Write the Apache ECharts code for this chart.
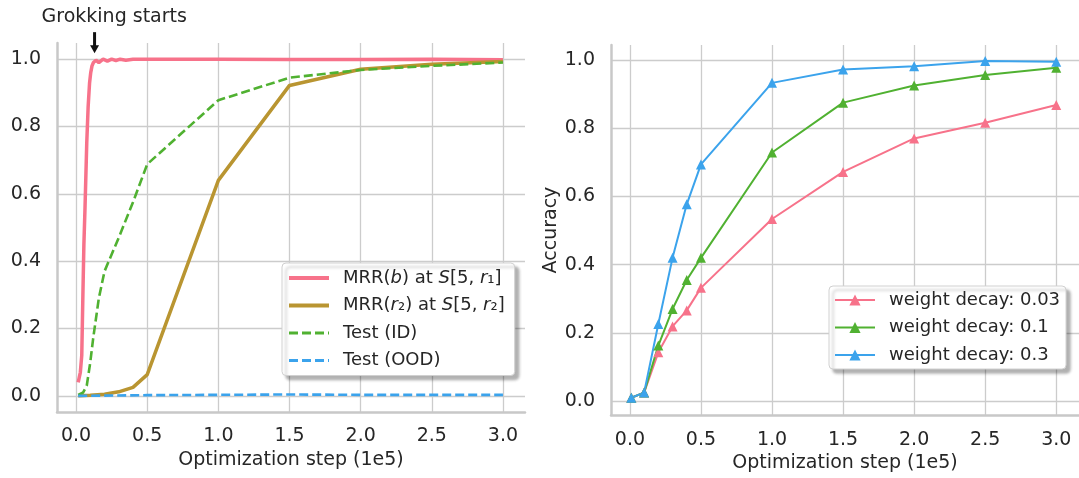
<!DOCTYPE html>
<html>
<head>
<meta charset="utf-8">
<script src="https://cdn.jsdelivr.net/npm/echarts@6.0.0/dist/echarts.min.js"></script>
<style>
  html, body { margin: 0; padding: 0; background: #fff; }
  #container { width: 1079px; height: 478px; }
</style>
</head>
<body>
<div id="container"></div>
<script>
// ---- data (x in units of 1e5 optimization steps) ----
var tickValuesX = [0, 0.5, 1.0, 1.5, 2.0, 2.5, 3.0];
var tickValuesY = [0, 0.2, 0.4, 0.6, 0.8, 1.0];

// left panel
var mrrBX = [0.015, 0.03, 0.04, 0.048, 0.055, 0.063, 0.075, 0.085, 0.095, 0.103, 0.112, 0.122,
    0.14, 0.16, 0.19, 0.22, 0.25, 0.28, 0.31, 0.35, 0.4, 0.5, 0.75, 1.0, 1.5, 2.0, 2.5, 3.0];
var mrrBY = [0.04, 0.07, 0.12, 0.3, 0.45, 0.56, 0.75, 0.86, 0.93, 0.96, 0.98, 0.99,
    0.997, 0.99, 1.0, 0.994, 1.0, 0.996, 1.0, 0.997, 1.0, 1.0, 1.0, 1.0, 0.999, 0.999, 1.0, 0.998];

var mrrR2X = [0.015, 0.1, 0.2, 0.3, 0.4, 0.5, 1.0, 1.5, 2.0, 2.5, 3.0];
var mrrR2Y = [0.0, 0.002, 0.005, 0.012, 0.025, 0.063, 0.64, 0.922, 0.97, 0.985, 0.993];

var testIdX = [0.015, 0.05, 0.075, 0.1, 0.12, 0.16, 0.2, 0.3, 0.4, 0.5, 1.0, 1.5, 2.0, 2.5, 3.0];
var testIdY = [0.003, 0.01, 0.03, 0.1, 0.17, 0.29, 0.37, 0.47, 0.575, 0.688, 0.878, 0.945, 0.968, 0.98, 0.99];

var testOodX = [0.015, 0.5, 1.0, 1.5, 2.0, 2.5, 3.0];
var testOodY = [0.0, 0.002, 0.003, 0.004, 0.003, 0.003, 0.003];

var grokX = 0.13;

// right panel
var wdSteps = [0.01, 0.1, 0.2, 0.3, 0.4, 0.5, 1.0, 1.5, 2.0, 2.5, 3.0];
var wd003 = [0.01, 0.025, 0.143, 0.219, 0.266, 0.332, 0.534, 0.672, 0.77, 0.816, 0.868];
var wd01 = [0.01, 0.025, 0.163, 0.27, 0.355, 0.42, 0.729, 0.875, 0.925, 0.956, 0.977];
var wd03 = [0.01, 0.025, 0.226, 0.42, 0.577, 0.694, 0.933, 0.972, 0.982, 0.997, 0.995];

var PINK = '#f7728a', GOLD = '#b99531', GREEN = '#50b131', BLUE = '#3ba3ec';
var TXT = '#262626', GRID = '#cccccc';
var FONT = 'DejaVu Sans';

function zip(xs, ys) {
    return xs.map(function (x, i) { return [x, ys[i]]; });
}

function xAxisOf(idx, min, max) {
    return {
        type: 'value', gridIndex: idx, min: min, max: max,
        name: 'Optimization step (1e5)', nameLocation: 'middle', nameGap: 38,
        nameTextStyle: { fontFamily: FONT, fontSize: 19, color: TXT },
        axisLine: { show: true, onZero: false, lineStyle: { color: '#c8c8c8', width: 2.5 } },
        axisTick: { show: false, customValues: tickValuesX },
        axisLabel: { customValues: tickValuesX, margin: 15, fontFamily: FONT, fontSize: 19, color: TXT,
            formatter: function (v) { return v.toFixed(1); } },
        splitLine: { show: true, lineStyle: { color: GRID, width: 1.3 } }
    };
}
function yAxisOf(idx, min, max, name) {
    return {
        type: 'value', gridIndex: idx, min: min, max: max,
        name: name, nameLocation: 'middle', nameGap: 50,
        nameTextStyle: { fontFamily: FONT, fontSize: 19, color: TXT },
        axisLine: { show: true, onZero: false, lineStyle: { color: '#c8c8c8', width: 2.5 } },
        axisTick: { show: false, customValues: tickValuesY },
        axisLabel: { customValues: tickValuesY, margin: 16, fontFamily: FONT, fontSize: 19, color: TXT,
            formatter: function (v) { return v.toFixed(1); } },
        splitLine: { show: true, lineStyle: { color: GRID, width: 1.3 } }
    };
}

var legendBox = {
    orient: 'vertical',
    backgroundColor: '#fff',
    borderColor: '#d0d0d0', borderWidth: 1, borderRadius: 4,
    shadowColor: 'rgba(0,0,0,0.3)', shadowBlur: 3, shadowOffsetX: 4, shadowOffsetY: 4,
    itemWidth: 40,
    textStyle: { fontFamily: FONT, fontSize: 18, color: TXT, padding: [0, 0, 0, 9],
        rich: { i: { fontFamily: FONT, fontSize: 18, color: TXT, fontStyle: 'italic' } } }
};

var myChart = echarts.init(document.getElementById('container'), null, { renderer: 'canvas' });

var option = {
    animation: false,
    backgroundColor: '#fff',
    grid: [
        { left: 57, top: 43, width: 468, height: 369 },
        { left: 611, top: 45, width: 472, height: 373 }
    ],
    xAxis: [xAxisOf(0, -0.134, 3.155), xAxisOf(1, -0.133, 3.16)],
    yAxis: [yAxisOf(0, -0.048, 1.048, ''), yAxisOf(1, -0.041, 1.044, 'Accuracy')],
    legend: [
        echarts.util.extend({
            left: 282, top: 263, padding: [6, 10, 6, 5], itemGap: 9.5, itemHeight: 16,
            itemStyle: { opacity: 0 },
            data: [
                { name: 'mrrB', lineStyle: { width: 4 } },
                { name: 'mrrR2', lineStyle: { width: 4 } },
                { name: 'Test (ID)', lineStyle: { width: 3 } },
                { name: 'Test (OOD)', lineStyle: { width: 3 } }
            ],
            formatter: function (name) {
                if (name === 'mrrB') return 'MRR({i|b}) at {i|S}[5, {i|r}₁]';
                if (name === 'mrrR2') return 'MRR({i|r}₂) at {i|S}[5, {i|r}₂]';
                return name;
            }
        }, legendBox),
        echarts.util.extend({
            left: 829, top: 286, padding: [5, 6, 5, 5], itemGap: 9.5, itemHeight: 14,
            data: ['weight decay: 0.03', 'weight decay: 0.1', 'weight decay: 0.3']
        }, legendBox)
    ],
    series: [
        { name: 'mrrB', type: 'line', xAxisIndex: 0, yAxisIndex: 0, data: zip(mrrBX, mrrBY),
            showSymbol: false, symbol: 'none', color: PINK, lineStyle: { width: 3.5, color: PINK } },
        { name: 'mrrR2', type: 'line', xAxisIndex: 0, yAxisIndex: 0, data: zip(mrrR2X, mrrR2Y),
            showSymbol: false, symbol: 'none', color: GOLD, lineStyle: { width: 3.5, color: GOLD } },
        { name: 'Test (ID)', type: 'line', xAxisIndex: 0, yAxisIndex: 0, data: zip(testIdX, testIdY),
            showSymbol: false, symbol: 'none', color: GREEN, lineStyle: { width: 2.6, color: GREEN, type: [9, 4] } },
        { name: 'Test (OOD)', type: 'line', xAxisIndex: 0, yAxisIndex: 0, data: zip(testOodX, testOodY),
            showSymbol: false, symbol: 'none', color: BLUE, lineStyle: { width: 2.6, color: BLUE, type: [9, 4] } },

        { name: 'weight decay: 0.03', type: 'line', xAxisIndex: 1, yAxisIndex: 1, data: zip(wdSteps, wd003),
            symbol: 'triangle', symbolSize: 10, color: PINK, lineStyle: { width: 2, color: PINK } },
        { name: 'weight decay: 0.1', type: 'line', xAxisIndex: 1, yAxisIndex: 1, data: zip(wdSteps, wd01),
            symbol: 'triangle', symbolSize: 10, color: GREEN, lineStyle: { width: 2, color: GREEN } },
        { name: 'weight decay: 0.3', type: 'line', xAxisIndex: 1, yAxisIndex: 1, data: zip(wdSteps, wd03),
            symbol: 'triangle', symbolSize: 10, color: BLUE, lineStyle: { width: 2, color: BLUE } }
    ]
};
myChart.setOption(option);

// "Grokking starts" annotation, anchored to the data point where the jump happens
var p = myChart.convertToPixel({ gridIndex: 0 }, [grokX, 1.0]);
myChart.setOption({
    graphic: [
        { type: 'text', left: p[0] - 53, top: 8,
            style: { text: 'Grokking starts', fontFamily: FONT, fontSize: 19, fill: TXT } },
        { type: 'line', shape: { x1: p[0], y1: p[1] - 27, x2: p[0], y2: p[1] - 13 },
            style: { stroke: '#111', lineWidth: 3 } },
        { type: 'polygon', shape: { points: [[p[0] - 4.5, p[1] - 14], [p[0] + 4.5, p[1] - 14], [p[0], p[1] - 6]] },
            style: { fill: '#111' } }
    ]
});
</script>
</body>
</html>
